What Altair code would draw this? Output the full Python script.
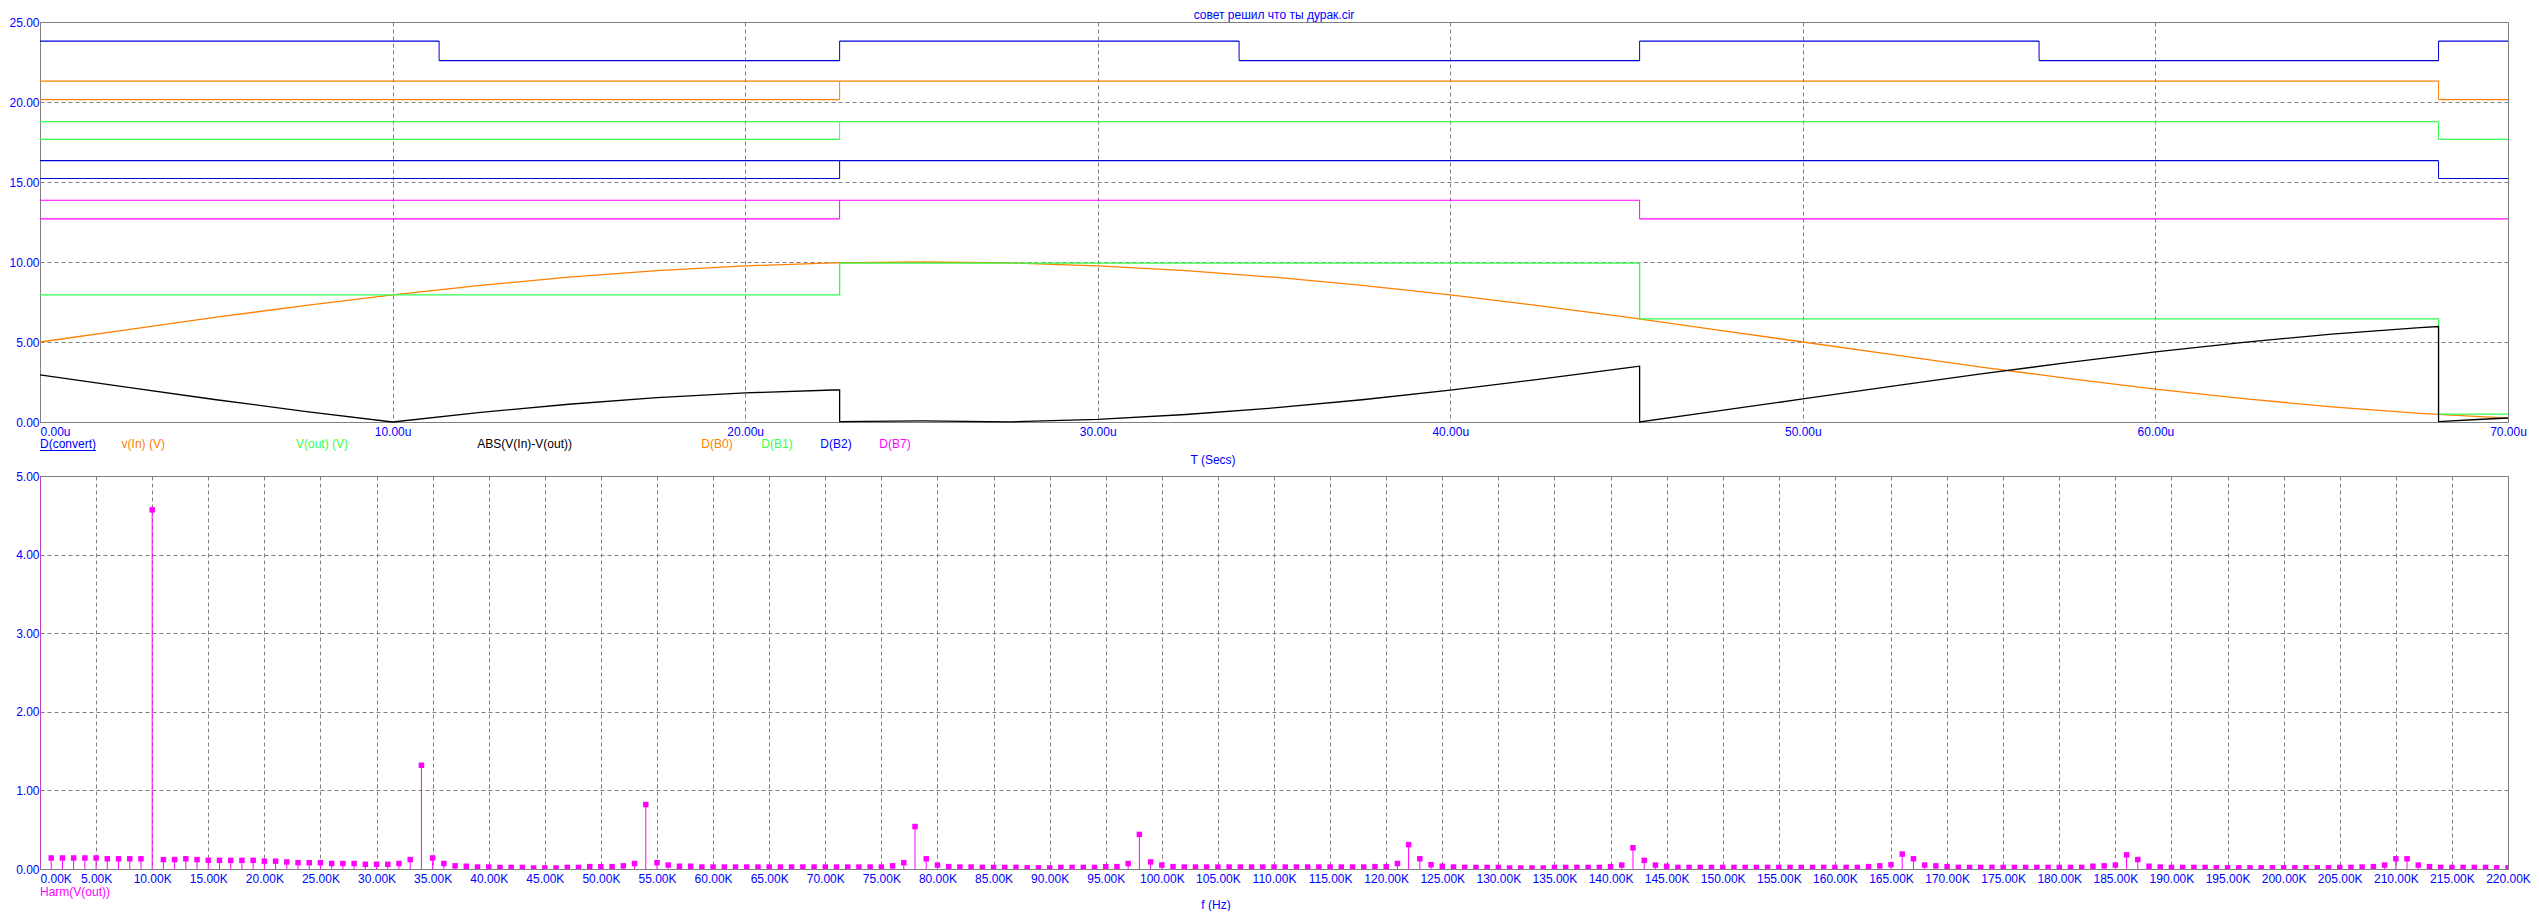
import altair as alt
import pandas as pd

# ------------------------------------------------------------------ data
# analog traces of the top plot (time in microseconds)
vin_t = [0, 2.5, 5, 7.5, 10, 12.5, 15, 17.5, 20, 22.5, 25, 27.5, 30, 32.5, 35,
         37.5, 40, 42.5, 45, 47.5, 50, 52.5, 55, 57.5, 60, 62.5, 65, 67.5, 70]
vin_v = [5.00, 5.78, 6.55, 7.27, 7.94, 8.54, 9.05, 9.46, 9.76, 9.94, 10.00, 9.94,
         9.76, 9.46, 9.05, 8.54, 7.94, 7.27, 6.55, 5.78, 5.00, 4.22, 3.45, 2.73,
         2.06, 1.46, 0.95, 0.54, 0.24]

vout_t = [0, 22.68, 22.68, 45.37, 45.37, 68.03, 68.03, 70]
vout_v = [7.94, 7.94, 9.93, 9.93, 6.44, 6.44, 0.49, 0.49]

abs_t = [0, 2.5, 5, 7.5, 10, 12.5, 15, 17.5, 20, 22.5, 22.68,
         22.68, 25, 27.5, 30, 32.5, 35, 37.5, 40, 42.5, 45, 45.37,
         45.37, 47.5, 50, 52.5, 55, 57.5, 60, 62.5, 65, 67.5, 68.03,
         68.03, 69, 70]
abs_v = [2.94, 2.16, 1.39, 0.67, 0.00, 0.60, 1.11, 1.52, 1.82, 2.00, 2.01,
         0.02, 0.07, 0.01, 0.17, 0.47, 0.88, 1.39, 1.99, 2.66, 3.38, 3.49,
         0.00, 0.66, 1.44, 2.22, 2.99, 3.71, 4.38, 4.98, 5.49, 5.90, 5.97,
         0.02, 0.14, 0.25]

# digital traces: change times, states ("X" = unknown, drawn as both levels)
dig_names = ["D(convert)", "D(B0)", "D(B1)", "D(B2)", "D(B7)"]
dig_times = {
    "D(convert)": [0, 11.32, 22.68, 34.01, 45.37, 56.70, 68.03, 70],
    "D(B0)": [0, 22.68, 68.03, 70],
    "D(B1)": [0, 22.68, 68.03, 70],
    "D(B2)": [0, 22.68, 68.03, 70],
    "D(B7)": [0, 22.68, 45.37, 70],
}
dig_states = {
    "D(convert)": ["1", "0", "1", "0", "1", "0", "1"],
    "D(B0)": ["X", "1", "0"],
    "D(B1)": ["X", "1", "0"],
    "D(B2)": ["X", "1", "0"],
    "D(B7)": ["X", "1", "0"],
}
dig_hi = {"D(convert)": 23.81, "D(B0)": 21.30, "D(B1)": 18.77, "D(B2)": 16.33, "D(B7)": 13.86}
dig_lo = {"D(convert)": 22.58, "D(B0)": 20.15, "D(B1)": 17.66, "D(B2)": 15.22, "D(B7)": 12.69}

# harmonics of V(out) (kHz, 0..220)
harm_f = list(range(0, 221))
harm_v = [
    7.90,
    0.14, 0.14, 0.14, 0.14, 0.14, 0.13, 0.13, 0.13, 0.13, 4.57,
    0.12, 0.12, 0.13, 0.12, 0.11, 0.11, 0.11, 0.11, 0.11, 0.10,
    0.10, 0.09, 0.08, 0.08, 0.08, 0.07, 0.07, 0.07, 0.06, 0.06,
    0.06, 0.07, 0.12, 1.32, 0.14, 0.07, 0.04, 0.035, 0.025, 0.025,
    0.02, 0.02, 0.02, 0.013, 0.013, 0.013, 0.02, 0.02, 0.03, 0.03,
    0.03, 0.04, 0.07, 0.82, 0.08, 0.05, 0.035, 0.035, 0.025, 0.025,
    0.025, 0.025, 0.025, 0.025, 0.025, 0.025, 0.025, 0.025, 0.025, 0.025,
    0.025, 0.025, 0.025, 0.025, 0.025, 0.04, 0.08, 0.54, 0.13, 0.05,
    0.03, 0.025, 0.025, 0.02, 0.02, 0.02, 0.02, 0.015, 0.015, 0.013,
    0.02, 0.02, 0.02, 0.02, 0.03, 0.03, 0.07, 0.44, 0.09, 0.05,
    0.03, 0.025, 0.025, 0.025, 0.025, 0.025, 0.025, 0.025, 0.025, 0.025,
    0.025, 0.025, 0.025, 0.025, 0.025, 0.025, 0.025, 0.025, 0.03, 0.03,
    0.07, 0.31, 0.13, 0.055, 0.035, 0.025, 0.02, 0.02, 0.02, 0.02,
    0.013, 0.013, 0.013, 0.013, 0.02, 0.02, 0.02, 0.02, 0.02, 0.03,
    0.05, 0.27, 0.11, 0.05, 0.035, 0.02, 0.02, 0.02, 0.02, 0.02,
    0.02, 0.02, 0.02, 0.02, 0.02, 0.02, 0.02, 0.02, 0.02, 0.02,
    0.02, 0.02, 0.03, 0.04, 0.055, 0.19, 0.13, 0.05, 0.04, 0.03,
    0.02, 0.02, 0.02, 0.02, 0.02, 0.02, 0.02, 0.02, 0.02, 0.02,
    0.02, 0.02, 0.035, 0.04, 0.05, 0.18, 0.12, 0.035, 0.025, 0.02,
    0.02, 0.02, 0.02, 0.015, 0.015, 0.015, 0.015, 0.015, 0.015, 0.015,
    0.015, 0.015, 0.015, 0.015, 0.02, 0.02, 0.025, 0.03, 0.05, 0.13,
    0.13, 0.05, 0.03, 0.02, 0.02, 0.02, 0.02, 0.02, 0.015, 0.015,
]

top_x_ticks = [0, 10, 20, 30, 40, 50, 60, 70]
top_y_ticks = [0, 5, 10, 15, 20, 25]
bot_x_ticks = list(range(0, 221, 5))
bot_y_ticks = [0, 1, 2, 3, 4, 5]

title_text = "совет решил что ты дурак.cir"
legend_labels = ["D(convert)", "v(In) (V)", "V(out) (V)", "ABS(V(In)-V(out))",
                 "D(B0)", "D(B1)", "D(B2)", "D(B7)"]

# ------------------------------------------------------------------ style / layout
FONT = "'Liberation Sans', Arial, sans-serif"
BLUE_TXT = "#0000ff"
C_BLUE = "#0000d8"
C_ORANGE = "#ff8000"
C_GREEN = "#30ff50"
C_MAG = "#ff00ff"
C_BLACK = "#000000"
dig_color = {"D(convert)": C_BLUE, "D(B0)": C_ORANGE, "D(B1)": C_GREEN,
             "D(B2)": C_BLUE, "D(B7)": C_MAG}
legend_colors = [BLUE_TXT, C_ORANGE, C_GREEN, C_BLACK, C_ORANGE, C_GREEN, BLUE_TXT, C_MAG]
legend_x = [0, 81.6, 256, 437.3, 661.3, 721.3, 780.3, 839.3]

W, H1, H2 = 2468, 400, 393

# ------------------------------------------------------------------ tables
hrows, vrows = [], []
for s in dig_names:
    ts, st = dig_times[s], dig_states[s]
    for i, state in enumerate(st):
        if state in ("1", "X"):
            hrows.append({"t0": ts[i], "t1": ts[i + 1], "lvl": dig_hi[s], "col": dig_color[s], "sig": s})
        if state in ("0", "X"):
            hrows.append({"t0": ts[i], "t1": ts[i + 1], "lvl": dig_lo[s], "col": dig_color[s], "sig": s})
        if i > 0:
            vrows.append({"t": ts[i], "lo": dig_lo[s], "hi": dig_hi[s], "col": dig_color[s]})
hseg = pd.DataFrame(hrows)
vseg = pd.DataFrame(vrows)

arows = []
for name, ts, vs, col in [("vin", vin_t, vin_v, C_ORANGE),
                          ("vout", vout_t, vout_v, C_GREEN),
                          ("abs", abs_t, abs_v, C_BLACK)]:
    for i, (t, v) in enumerate(zip(ts, vs)):
        arows.append({"t": t, "v": v, "series": name, "col": col, "i": i})
ana = pd.DataFrame(arows)

harm = pd.DataFrame({"f": harm_f, "v": harm_v})
harm["zero"] = 0.0

# ------------------------------------------------------------------ scales / axes
first_left = {"condition": {"test": "datum.value == 0", "value": "left"}, "value": "center"}

xt = alt.Scale(domain=[0, 70], nice=False, zero=False)
yt = alt.Scale(domain=[0, 25], nice=False, zero=False)
ax_xt = alt.Axis(values=top_x_ticks, labelExpr="format(datum.value, '.2f') + 'u'",
                 title=None, labelAlign=first_left, labelOverlap=False)
ax_yt = alt.Axis(values=top_y_ticks, format=".2f", title=None, labelOverlap=False)

xb = alt.Scale(domain=[0, 220], nice=False, zero=False)
yb = alt.Scale(domain=[0, 5], nice=False, zero=False)
ax_xb = alt.Axis(values=bot_x_ticks, labelExpr="format(datum.value, '.2f') + 'K'",
                 title=None, labelAlign=first_left, labelOverlap=False)
ax_yb = alt.Axis(values=bot_y_ticks, format=".2f", title=None, labelOverlap=False)


def text_layer(s, x, y, color, align="left"):
    return alt.Chart(pd.DataFrame({"s": [s]})).mark_text(
        align=align, baseline="alphabetic", font=FONT, fontSize=12, color=color
    ).encode(x=alt.value(x), y=alt.value(y), text="s:N")


# ------------------------------------------------------------------ top plot
h_layer = alt.Chart(hseg).mark_rule(strokeWidth=1.2).encode(
    x=alt.X("t0:Q", scale=xt, axis=ax_xt), x2="t1:Q",
    y=alt.Y("lvl:Q", scale=yt, axis=ax_yt),
    color=alt.Color("col:N", scale=None),
)
v_layer = alt.Chart(vseg).mark_rule(strokeWidth=1).encode(
    x=alt.X("t:Q", scale=xt, axis=ax_xt),
    y=alt.Y("lo:Q", scale=yt, axis=ax_yt), y2="hi:Q",
    color=alt.Color("col:N", scale=None),
)
a_layer = alt.Chart(ana).mark_line(strokeWidth=1.3).encode(
    x=alt.X("t:Q", scale=xt, axis=ax_xt),
    y=alt.Y("v:Q", scale=yt, axis=ax_yt),
    detail="series:N",
    color=alt.Color("col:N", scale=None),
    order="i:Q",
)

top_texts = [text_layer(title_text, W / 2, -3.5, BLUE_TXT, "center")]
for lab, col, lx in zip(legend_labels, legend_colors, legend_x):
    top_texts.append(text_layer(lab, lx, H1 + 26, col))
top_texts.append(text_layer("T (Secs)", 1173, H1 + 42, BLUE_TXT, "center"))
underline = alt.Chart(pd.DataFrame({"a": [0]})).mark_rule(color=BLUE_TXT, strokeWidth=1).encode(
    x=alt.value(0), x2=alt.value(56), y=alt.value(H1 + 28.5)
)

top = alt.layer(h_layer, v_layer, a_layer, *top_texts, underline).properties(width=W, height=H1)

# ------------------------------------------------------------------ bottom plot
stem = alt.Chart(harm).mark_rule(color=C_MAG, strokeWidth=1, clip=True).encode(
    x=alt.X("f:Q", scale=xb, axis=ax_xb),
    y=alt.Y("v:Q", scale=yb, axis=ax_yb), y2="zero:Q",
)
mk = alt.Chart(harm).mark_square(size=30, color=C_MAG, opacity=1, filled=True, clip=True).encode(
    x=alt.X("f:Q", scale=xb, axis=ax_xb),
    y=alt.Y("v:Q", scale=yb, axis=ax_yb),
)
bot_texts = [
    text_layer("Harm(V(out))", 0, H2 + 27, C_MAG),
    text_layer("f (Hz)", 1176, H2 + 39.5, BLUE_TXT, "center"),
]
bottom = alt.layer(stem, mk, *bot_texts).properties(width=W, height=H2)

# ------------------------------------------------------------------ assemble
chart = (
    alt.vconcat(top, bottom, spacing=54, bounds="flush")
    .properties(padding={"left": 0, "top": 0, "right": 0, "bottom": 0}, background="white")
    .configure_view(stroke="#808080", strokeWidth=1)
    .configure_axis(domain=False, ticks=False, tickSize=0, grid=True, gridColor="#808080",
                    gridDash=[4, 3], gridWidth=1, labelFont=FONT, labelFontSize=12,
                    labelColor=BLUE_TXT)
    .configure_axisX(labelPadding=4)
    .configure_axisY(labelPadding=1, labelBaseline="middle")
)

chart.save("out.html", embed_options={"renderer": "svg", "actions": False})
